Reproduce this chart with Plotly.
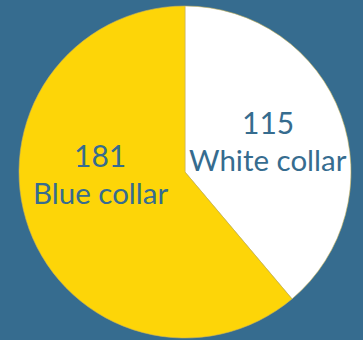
import plotly.graph_objects as go

categories = ["White collar", "Blue collar"]
values = [115, 181]
colors = ["#FFFFFF", "#FDD508"]

BG = "#366C8F"
TXT = "#366C8F"
FONT = "Lato, Open Sans, sans-serif"

fig = go.Figure(go.Pie(
    labels=categories,
    values=values,
    sort=False,
    direction="clockwise",
    rotation=0,
    marker=dict(colors=colors, line=dict(color="#C9B45A", width=0.6)),
    textinfo="none",
    hoverinfo="label+value",
    showlegend=False,
    domain=dict(x=[19/363, 351/363], y=[2/340, 334/340]),
))

# label layout (pixels): x center, y of boundary between number (above) and name (below)
label_pos = {
    "White collar": (268, 141),
    "Blue collar": (100, 174),
}
W, H = 363, 340
anns = []
for cat, val in zip(categories, values):
    x, y = label_pos[cat]
    anns.append(dict(text=str(val), x=x / W, y=1 - y / H, xref="paper", yref="paper",
                     showarrow=False, xanchor="center", yanchor="bottom", borderpad=0,
                     font=dict(family=FONT, size=30, color=TXT)))
    anns.append(dict(text=cat, x=x / W, y=1 - y / H, xref="paper", yref="paper",
                     showarrow=False, xanchor="center", yanchor="top", borderpad=0,
                     font=dict(family=FONT, size=29.5, color=TXT)))

fig.update_layout(
    width=363, height=340,
    margin=dict(l=0, r=0, t=0, b=0),
    paper_bgcolor=BG, plot_bgcolor=BG,
    annotations=anns,
)

fig.write_html(
    "out.html",
    config={"displayModeBar": False},
    post_script="document.body.style.margin='0';document.body.style.background='%s';" % BG,
)
